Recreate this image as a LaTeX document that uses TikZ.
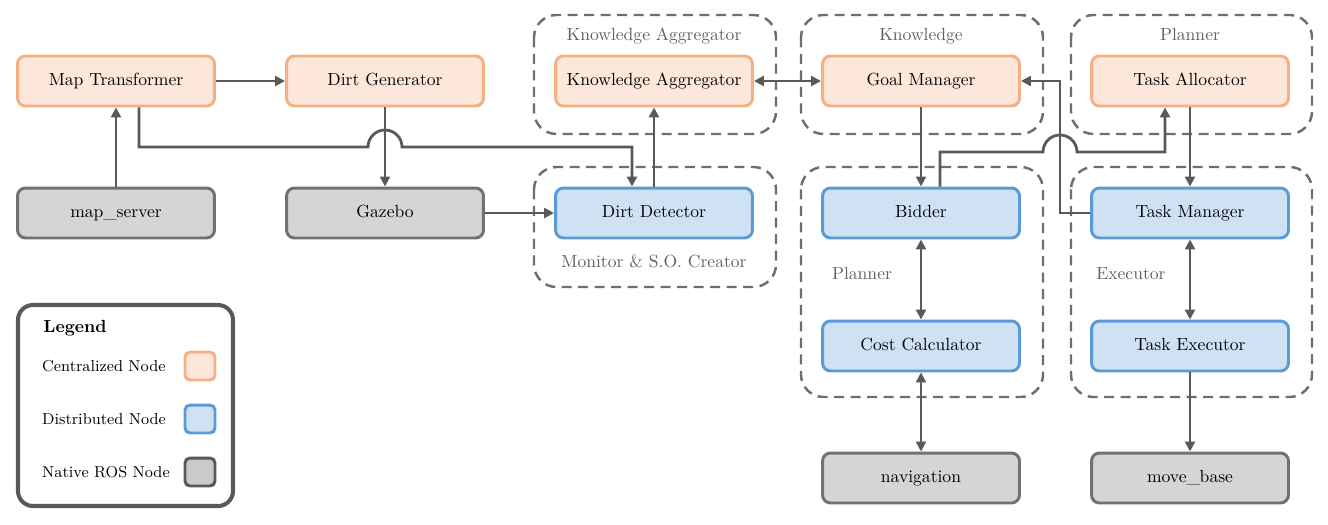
\documentclass[tikz,border=0pt]{standalone}
\usetikzlibrary{arrows.meta}

\definecolor{cenfill}{HTML}{FDE7DA}
\definecolor{cenline}{HTML}{F4B183}
\definecolor{disfill}{HTML}{CFE2F3}
\definecolor{disline}{HTML}{5B9BD5}
\definecolor{rosfill}{HTML}{D6D4D4}
\definecolor{rosline}{HTML}{737070}
\definecolor{linkcol}{HTML}{595959}
\definecolor{groupcol}{HTML}{6E6E6E}
\definecolor{grouptext}{HTML}{606060}

\tikzset{
  rosnode/.style={draw, rounded corners=0.16cm, line width=1.7pt, minimum width=3.94cm, minimum height=1.0cm, font=\strut},
  central/.style={rosnode, draw=cenline, fill=cenfill},
  distrib/.style={rosnode, draw=disline, fill=disfill},
  native/.style={rosnode, draw=rosline, fill=rosfill},
  swatch/.style={draw, rounded corners=0.1cm, line width=1.7pt, minimum width=0.6cm, minimum height=0.56cm},
  group/.style={draw=groupcol, dash pattern=on 0.2cm off 0.13cm, line width=1.4pt, rounded corners=0.45cm},
  grouplabel/.style={text=grouptext, font=\strut},
  link/.style={draw=linkcol, line width=1.6pt, -{Triangle[length=0.2cm,width=0.2cm]}},
  biglink/.style={link, {Triangle[length=0.2cm,width=0.2cm]}-{Triangle[length=0.2cm,width=0.2cm]}},
}

\begin{document}
\begin{tikzpicture}[x=0.02cm, y=-0.02cm]
\useasboundingbox (0,0) rectangle (1328,524);

\draw[group] (534,15) rectangle (776,134);
\draw[group] (534,167) rectangle (776,287);
\draw[group] (801,15) rectangle (1043,134);
\draw[group] (1071,15) rectangle (1312,134);
\draw[group] (801,167) rectangle (1043,397);
\draw[group] (1071,167) rectangle (1312,397);

\node[grouplabel] (gKnowAgg) at (654,36) {Knowledge Aggregator};
\node[grouplabel] (gMonitor) at (654,263) {Monitor \& S.O. Creator};
\node[grouplabel] (gKnow) at (921,36) {Knowledge};
\node[grouplabel] (gPlanTop) at (1190,36) {Planner};
\node[grouplabel] (gPlanBot) at (862,275) {Planner};
\node[grouplabel] (gExec) at (1131,275) {Executor};

\node[central] (mapTrans) at (116,81) {Map Transformer};
\node[central] (dirtGen) at (385,81) {Dirt Generator};
\node[central] (knowAgg) at (654,81) {Knowledge Aggregator};
\node[central] (goalMan) at (921,81) {Goal Manager};
\node[central] (taskAlloc) at (1190,81) {Task Allocator};

\node[native] (mapServer) at (116,213) {map\_server};
\node[native] (gazebo) at (385,213) {Gazebo};
\node[distrib] (dirtDet) at (654,213) {Dirt Detector};
\node[distrib] (bidder) at (921,213) {Bidder};
\node[distrib] (taskMan) at (1190,213) {Task Manager};

\node[distrib] (costCalc) at (921,346) {Cost Calculator};
\node[distrib] (taskExec) at (1190,346) {Task Executor};
\node[native] (navigation) at (921,478) {navigation};
\node[native] (moveBase) at (1190,478) {move\_base};

\coordinate (hopA) at (368,147);
\coordinate (hopB) at (1043,152);

\draw[link] (mapTrans) -- (dirtGen);
\draw[link] (mapServer) -- (mapTrans);
\draw[link] (dirtGen) -- (gazebo);
\draw[link] ([xshift=0.46cm]mapTrans.south) |- (hopA) arc[start angle=180, end angle=0, radius=0.34cm] -| ([xshift=-0.44cm]dirtDet.north);
\draw[link] (gazebo) -- (dirtDet);
\draw[link] (dirtDet) -- (knowAgg);
\draw[biglink] (knowAgg) -- (goalMan);
\draw[link] (goalMan) -- (bidder);
\draw[link] (taskMan.west) -| (1060,81) -- (goalMan.east);
\draw[link] ([xshift=0.38cm]bidder.north) |- (hopB) arc[start angle=180, end angle=0, radius=0.34cm] -| ([xshift=-0.5cm]taskAlloc.south);
\draw[link] (taskAlloc) -- (taskMan);
\draw[biglink] (bidder) -- (costCalc);
\draw[biglink] (taskMan) -- (taskExec);
\draw[biglink] (costCalc) -- (navigation);
\draw[link] (taskExec) -- (moveBase);

\draw[draw=linkcol, line width=2.3pt, rounded corners=0.3cm] (18,305) rectangle (233,506);
\node[font=\bfseries] (legendTitle) at (75,328) {Legend};
\node[anchor=west, font=\small] (legCen) at (36,366) {Centralized Node};
\node[anchor=west, font=\small] (legDis) at (36,419) {Distributed Node};
\node[anchor=west, font=\small] (legRos) at (36,472) {Native ROS Node};
\node[swatch, draw=cenline, fill=cenfill] (swCen) at (200,366) {};
\node[swatch, draw=disline, fill=disfill] (swDis) at (200,419) {};
\node[swatch, draw=linkcol, fill=rosfill!95!black] (swRos) at (200,472) {};
\end{tikzpicture}
\end{document}
